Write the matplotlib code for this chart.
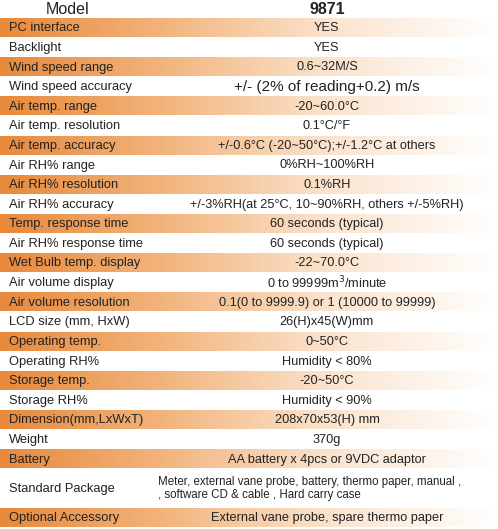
import matplotlib
matplotlib.use("Agg")
import matplotlib.pyplot as plt
import numpy as np
from matplotlib.colors import LinearSegmentedColormap

plt.rcParams['font.family'] = ['Liberation Sans', 'DejaVu Sans']

header = ["Model", "9871"]
labels = ["PC interface", "Backlight", "Wind speed range", "Wind speed accuracy",
          "Air temp. range", "Air temp. resolution", "Air temp. accuracy", "Air RH% range",
          "Air RH% resolution", "Air RH% accuracy", "Temp. response time",
          "Air RH% response time", "Wet Bulb temp. display", "Air volume display",
          "Air volume resolution", "LCD size (mm, HxW)", "Operating temp.", "Operating RH%",
          "Storage temp.", "Storage RH%", "Dimension(mm,LxWxT)", "Weight", "Battery",
          "Standard Package", "Optional Accessory"]
values = ["YES", "YES", "0.6~32M/S", "+/- (2% of reading+0.2) m/s", "-20~60.0°C",
          "0.1°C/°F", "+/-0.6°C (-20~50°C);+/-1.2°C at others", "0%RH~100%RH", "0.1%RH",
          "+/-3%RH(at 25°C, 10~90%RH, others +/-5%RH)", "60 seconds (typical)",
          "60 seconds (typical)", "-22~70.0°C", "0 to 99999m$^3$/minute",
          "0.1(0 to 9999.9) or 1 (10000 to 99999)", "26(H)x45(W)mm", "0~50°C",
          "Humidity < 80%", "-20~50°C", "Humidity < 90%", "208x70x53(H) mm", "370g",
          "AA battery x 4pcs or 9VDC adaptor",
          "Meter, external vane probe, battery, thermo paper, manual ,\n, software CD & cable , Hard carry case",
          "External vane probe, spare thermo paper"]
highlight = [1,0,1,0,1,0,1,0,1,0,1,0,1,0,1,0,1,0,1,0,1,0,1,0,1]
row_h = [19.6]*23 + [39, 20]

W, H = 498, 529
fig = plt.figure(figsize=(W/100, H/100), dpi=100)
ax = fig.add_axes([0, 0, 1, 1])
ax.set_xlim(0, W); ax.set_ylim(H, 0); ax.axis("off")

cmap = LinearSegmentedColormap.from_list("g", ["#e8893c", "#f2b57e", "#fbe4cf", "#ffffff"])
grad = np.linspace(0, 1, 256)[None, :]

ax.text(68, 9, header[0], ha="center", va="center", fontsize=11.5, color="#222")
ax.text(327, 9, header[1], ha="center", va="center", fontsize=11.5, weight="bold", color="#222")

y = 18.5
for lab, val, hl, h in zip(labels, values, highlight, row_h):
    if hl:
        ax.imshow(grad, cmap=cmap, extent=[0, W, y + h - 1, y + 0.5], aspect="auto",
                  interpolation="bicubic", zorder=0)
    cy = y + h/2
    ax.text(9, cy, lab, ha="left", va="center", fontsize=9.3, color="#222")
    if "\n" in val:
        ax.text(158, cy, val, ha="left", va="center", fontsize=8.3, color="#222", linespacing=1.1)
    else:
        fs = 11 if val.startswith("+/- (") else 9.2
        ax.text(327, cy, val, ha="center", va="center", fontsize=fs, color="#222")
    y += h

fig.savefig("out.png", dpi=100)
